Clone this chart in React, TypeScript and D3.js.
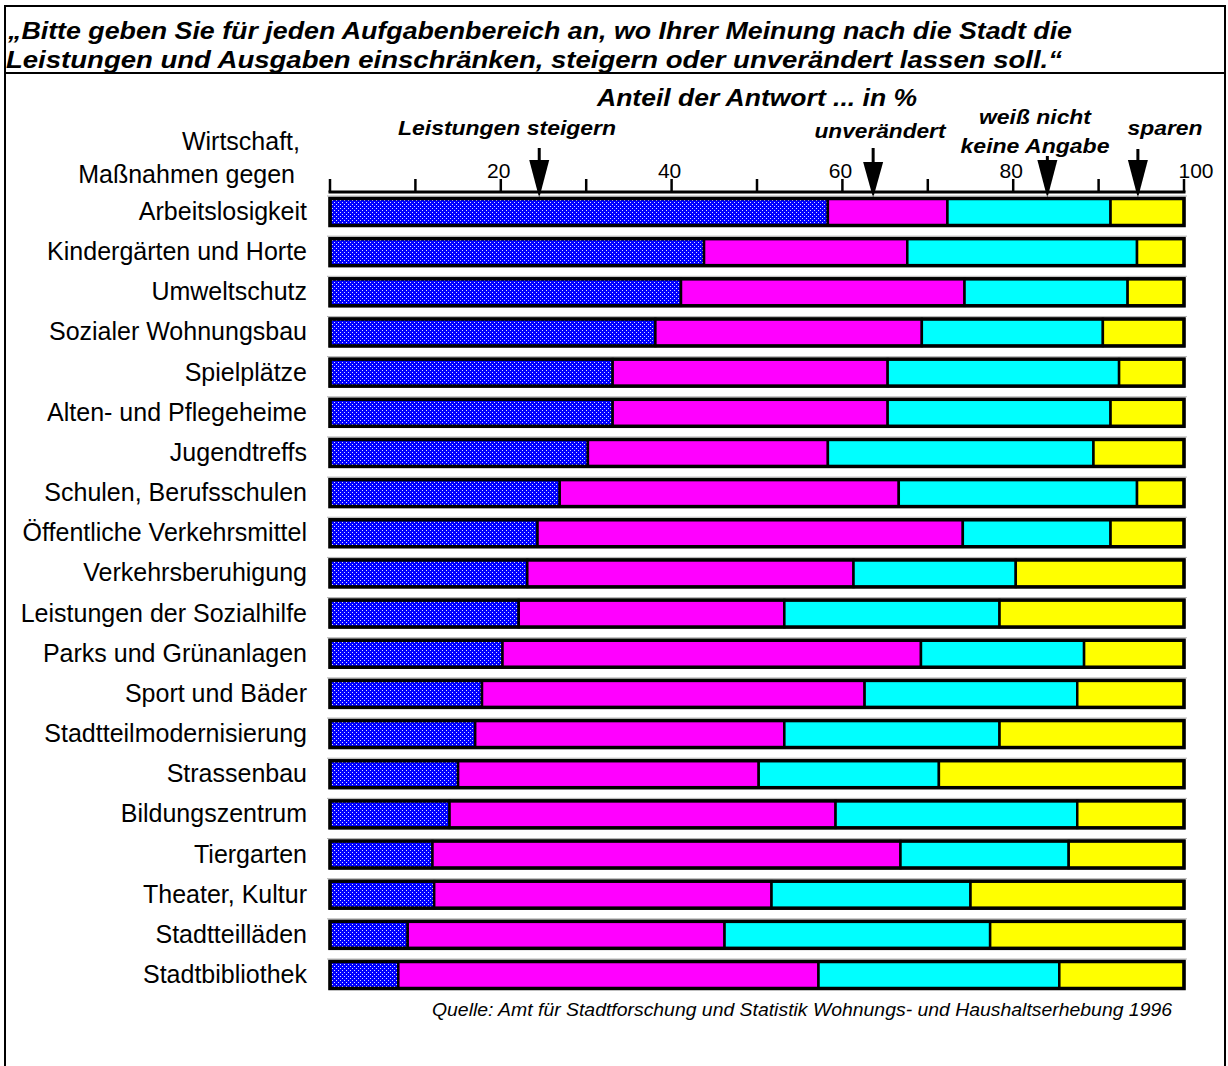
import React from "react";
import * as d3 from "d3";

const categories = [
  "Arbeitslosigkeit",
  "Kindergärten und Horte",
  "Umweltschutz",
  "Sozialer Wohnungsbau",
  "Spielplätze",
  "Alten- und Pflegeheime",
  "Jugendtreffs",
  "Schulen, Berufsschulen",
  "Öffentliche Verkehrsmittel",
  "Verkehrsberuhigung",
  "Leistungen der Sozialhilfe",
  "Parks und Grünanlagen",
  "Sport und Bäder",
  "Stadtteilmodernisierung",
  "Strassenbau",
  "Bildungszentrum",
  "Tiergarten",
  "Theater, Kultur",
  "Stadtteilläden",
  "Stadtbibliothek",
];

const firstLabelExtra = ["Wirtschaft,", "Maßnahmen gegen"];

const steigern = [58.3, 43.8, 41.1, 38.1, 33.1, 33.1, 30.2, 26.9, 24.3, 23.1, 22.1, 20.2, 17.8, 17.0, 15.0, 14.0, 12.0, 12.2, 9.1, 8.0];
const unveraendert = [14.0, 23.8, 33.2, 31.2, 32.2, 32.2, 28.1, 39.7, 49.8, 38.2, 31.1, 49.0, 44.8, 36.2, 35.2, 45.2, 54.8, 39.5, 37.1, 49.2];
const weissNicht = [19.1, 26.9, 19.1, 21.2, 27.1, 26.1, 31.1, 27.9, 17.3, 19.0, 25.2, 19.1, 24.9, 25.2, 21.1, 28.3, 19.7, 23.3, 31.1, 28.2];
const sparen = [8.6, 5.5, 6.6, 9.5, 7.6, 8.6, 10.6, 5.5, 8.6, 19.7, 21.6, 11.7, 12.5, 21.6, 28.7, 12.5, 13.5, 25.0, 22.7, 14.6];

const seriesKeys = ["steigern", "unveraendert", "weissNicht", "sparen"];
const seriesColors = ["url(#dots)", "#FF00FF", "#00FFFF", "#FFFF00"];

const tickValues = [0, 10, 20, 30, 40, 50, 60, 70, 80, 90, 100];
const tickLabels = [20, 40, 60, 80, 100];

const titleLines = [
  "„Bitte geben Sie für jeden Aufgabenbereich an, wo Ihrer Meinung nach die Stadt die",
  "Leistungen und Ausgaben einschränken, steigern oder unverändert lassen soll.“",
];
const axisTitle = "Anteil der Antwort ... in %";
const sourceText = "Quelle: Amt für Stadtforschung und Statistik  Wohnungs- und Haushaltserhebung 1996";

const FONT = "'Liberation Sans', Arial, Helvetica, sans-serif";

export default function App() {
  const W = 1228;
  const H = 1066;
  const x = d3.scaleLinear().domain([0, 100]).range([330, 1184]);
  const y = d3.scalePoint<string>().domain(categories).range([212, 975]);
  const barH = 27;

  const rows = categories.map((c, i) => ({
    cat: c,
    steigern: steigern[i],
    unveraendert: unveraendert[i],
    weissNicht: weissNicht[i],
    sparen: sparen[i],
  }));
  const stacked = d3.stack<any>().keys(seriesKeys)(rows);

  const axisY = 192;

  const arrows = [
    { label: ["Leistungen steigern"], len: [218], v: 24.5, lx: 507, ly: [135], lineTop: 148, triTop: 160 },
    { label: ["unverändert"], len: [131], v: 63.6, lx: 880, ly: [138], lineTop: 148, triTop: 162 },
    { label: ["weiß nicht", "keine Angabe"], len: [112, 149], v: 84.0, lx: 1035, ly: [124, 153], lineTop: 156, triTop: 160 },
    { label: ["sparen"], len: [75], v: 94.6, lx: 1165, ly: [135], lineTop: 149, triTop: 160 },
  ];
  const tipY = 198;

  return (
    <svg
      width={W}
      height={H}
      style={{ position: "absolute", left: 0, top: 0, background: "#fff" }}
      fontFamily={FONT}
    >
      <defs>
        <pattern id="dots" width="4" height="4" patternUnits="userSpaceOnUse">
          <rect width="4" height="4" fill="#0000FF" />
          <rect x="0" y="0" width="1" height="1" fill="#dcdcff" />
          <rect x="2" y="2" width="1" height="1" fill="#dcdcff" />
        </pattern>
      </defs>
      <rect x={0} y={0} width={W} height={H} fill="#fff" />
      {/* frame */}
      <rect x={5} y={6} width={1220} height={H + 10} fill="none" stroke="#000" strokeWidth={2} />
      <line x1={5} x2={1225} y1={73} y2={73} stroke="#000" strokeWidth={2} />

      {/* title */}
      <text x={8} y={39} fontSize={24} fontWeight="bold" fontStyle="italic" textLength={1064} lengthAdjust="spacingAndGlyphs">
        {titleLines[0]}
      </text>
      <text x={6} y={68} fontSize={24} fontWeight="bold" fontStyle="italic" textLength={1056} lengthAdjust="spacingAndGlyphs">
        {titleLines[1]}
      </text>

      <text x={597} y={106} fontSize={24} fontWeight="bold" fontStyle="italic" textLength={320} lengthAdjust="spacingAndGlyphs">
        {axisTitle}
      </text>

      {/* arrows and legend labels */}
      {arrows.map((a, i) => (
        <g key={i}>
          {a.label.map((l, j) => (
            <text
              key={j}
              x={a.lx - a.len[j] / 2}
              y={a.ly[j]}
              fontSize={21}
              fontWeight="bold"
              fontStyle="italic"
              textLength={a.len[j]}
              lengthAdjust="spacingAndGlyphs"
            >
              {l}
            </text>
          ))}
          <line x1={x(a.v)} x2={x(a.v)} y1={a.lineTop} y2={a.triTop + 2} stroke="#000" strokeWidth={3} />
          <path
            d={`M${x(a.v) - 10},${a.triTop} L${x(a.v) + 10},${a.triTop} L${x(a.v)},${tipY} Z`}
            fill="#000"
          />
        </g>
      ))}

      {/* axis */}
      <line x1={x(0) - 1.5} x2={x(100) + 1.5} y1={axisY} y2={axisY} stroke="#000" strokeWidth={3} />
      {tickValues.map((t) => (
        <line key={t} x1={x(t)} x2={x(t)} y1={axisY} y2={axisY - 13} stroke="#000" strokeWidth={2.5} />
      ))}
      {tickLabels.map((t) => (
        <text
          key={t}
          x={t === 100 ? x(t) + 12 : x(t) - 2}
          y={178}
          fontSize={21}
          textAnchor="middle"
        >
          {t}
        </text>
      ))}

      {/* category labels */}
      {firstLabelExtra.map((l, i) => (
        <text key={l} x={i === 0 ? 300 : 295} y={150 + i * 33} fontSize={25} textAnchor="end">
          {l}
        </text>
      ))}
      {categories.map((c) => (
        <text key={c} x={307} y={(y(c) as number) + 8} fontSize={25} textAnchor="end">
          {c}
        </text>
      ))}

      {/* bars */}
      {categories.map((c) => {
        const cy = y(c) as number;
        return (
          <line key={"g" + c} x1={x(0) - 3} x2={x(100) + 3} y1={cy - barH / 2 - 2.5} y2={cy - barH / 2 - 2.5} stroke="#b4b4b4" strokeWidth={1} />
        );
      })}
      {stacked.map((s, si) => (
        <g key={s.key}>
          {s.map((d, i) => {
            const cy = y(categories[i]) as number;
            return (
              <rect
                key={i}
                x={x(d[0])}
                y={cy - barH / 2}
                width={x(d[1]) - x(d[0])}
                height={barH}
                fill={seriesColors[si]}
                stroke="#000"
                strokeWidth={2.5}
              />
            );
          })}
        </g>
      ))}
      {categories.map((c) => {
        const cy = y(c) as number;
        return (
          <rect key={"o" + c} x={x(0)} y={cy - barH / 2} width={x(100) - x(0)} height={barH} fill="none" stroke="#000" strokeWidth={3.5} />
        );
      })}

      <text x={432} y={1016} fontSize={18} fontStyle="italic" textLength={740} lengthAdjust="spacingAndGlyphs">
        {sourceText}
      </text>
    </svg>
  );
}
